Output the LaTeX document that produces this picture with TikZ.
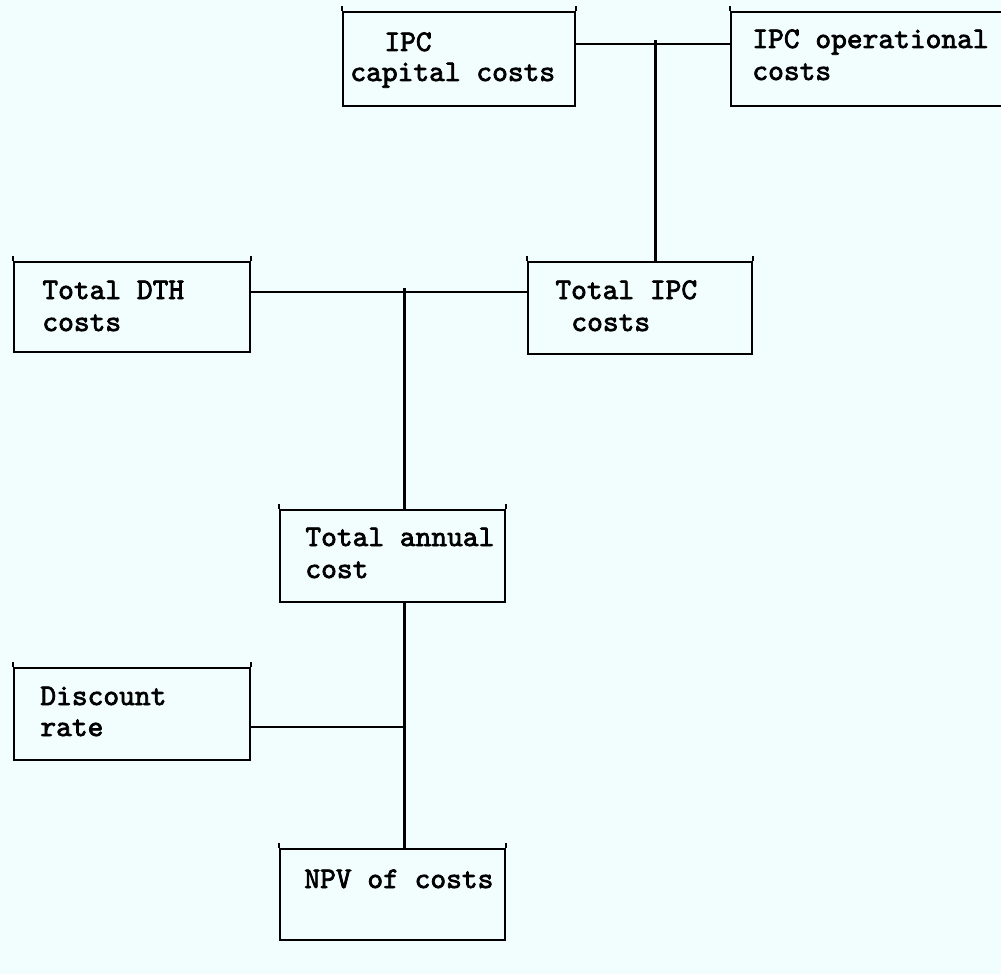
\documentclass[tikz,border=0pt]{standalone}
\usepackage{fontspec}
\newfontfamily\twfont[Extension=.otf, FakeBold=2.4]{lmmono10-regular}
\definecolor{bg}{RGB}{242,253,253}
\begin{document}
\begin{tikzpicture}[x=0.5pt,y=-0.5pt,
  box/.style={draw, line width=1pt, rectangle, inner sep=0pt},
  hlink/.style={line width=1pt},
  vlink/.style={line width=1.5pt},
  tick/.style={line width=1pt},
  lbl/.style={font=\twfont\fontsize{15}{16}\selectfont, anchor=base west, inner sep=0pt}]
\fill[bg] (0,0) rectangle (1001,974);
\useasboundingbox (0,0) rectangle (1001,974);
\clip (0,0) rectangle (1001,974);
% boxes
\node[box, minimum width=116pt, minimum height=47pt] (b1) at (459,59) {};
\node[box, minimum width=150pt, minimum height=47pt] (b2) at (881,59) {};
\node[box, minimum width=118pt, minimum height=45pt] (b3) at (132,307) {};
\node[box, minimum width=112pt, minimum height=46pt] (b4) at (640,308) {};
\node[box, minimum width=112.5pt, minimum height=46pt] (b5) at (392.5,556) {};
\node[box, minimum width=118pt, minimum height=46pt] (b6) at (132,714) {};
\node[box, minimum width=112.5pt, minimum height=45.5pt] (b7) at (392.5,894.5) {};
% corner ticks
\foreach \b in {b1,b2,b3,b4,b5,b6,b7}{
  \draw[tick] (\b.north west) -- ++(0,-5);
  \draw[tick] (\b.north east) -- ++(0,-5);
}
% texts
\node[lbl] (t1a) at (384,51) {IPC};
\node[lbl] (t1b) at (350,81) {capital costs};
\node[lbl] (t2a) at (752,48) {IPC operational};
\node[lbl] (t2b) at (752,80) {costs};
\node[lbl] (t3a) at (42,299) {Total DTH};
\node[lbl] (t3b) at (42,331) {costs};
\node[lbl] (t4a) at (555,299) {Total IPC};
\node[lbl] (t4b) at (571,331) {costs};
\node[lbl] (t5a) at (305,546) {Total annual};
\node[lbl] (t5b) at (305,578) {cost};
\node[lbl] (t6a) at (40,705) {Discount};
\node[lbl] (t6b) at (40,736) {rate};
\node[lbl] (t7a) at (304,888) {NPV of costs};
% junctions
\coordinate (j1) at (655,44);
\coordinate (j2) at (404,292);
\coordinate (j3) at (404,727);
% connectors
\draw[hlink] (b1.east |- j1) -- (b2.west |- j1);
\draw[vlink] ([yshift=2pt]j1) -- (j1 |- b4.north);
\draw[hlink] (b3.east |- j2) -- (b4.west |- j2);
\draw[vlink] ([yshift=2pt]j2) -- (j2 |- b5.north);
\draw[vlink] (j2 |- b5.south) -- (j2 |- b7.north);
\draw[hlink] (b6.east |- j3) -- (j3);
\end{tikzpicture}
\end{document}
